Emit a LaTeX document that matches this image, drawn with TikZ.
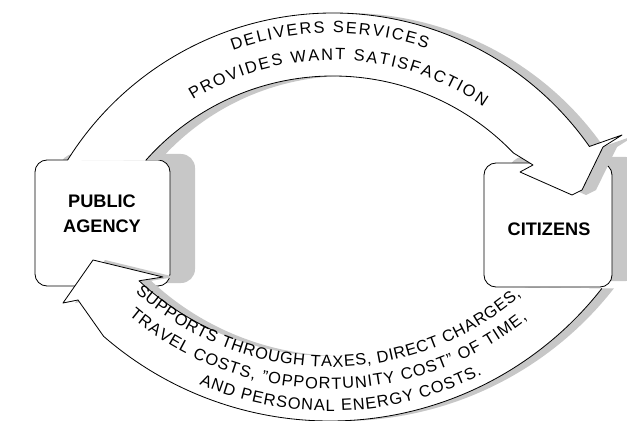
\documentclass[tikz,border=0pt]{standalone}
\usepackage{fontspec}
\setmainfont{Liberation Sans}
\usetikzlibrary{decorations.text}

\newcommand{\arcfont}{\fontsize{14}{14}\selectfont}

% upper ribbon: agency -> citizens
\newcommand{\servicepath}{([shift={(-148:313)}]ct) arc[start angle=-148, end angle=-35, radius=313]
  -- (622,135) -- (603,147) -- (582,190) -- (572,195) -- (520,172) -- (533,165)
  -- ([shift={(-43.8:250)}]ct) arc[start angle=-43.8, end angle=-138.5, radius=250]}
% lower ribbon: citizens -> agency
\newcommand{\supportpath}{(93,260) -- (63,303) -- (78,300)
  -- ([shift={(131:345)}]cb) arc[start angle=131, end angle=38, radius=345]
  -- ([shift={(49:280)}]cb) arc[start angle=49, end angle=133, radius=280] -- (163,277) -- cycle}

\begin{document}
\begin{tikzpicture}[%
x=0.3mm, y=-0.3mm,
ribbonface/.style={fill=white, draw=black, line width=0.7pt, line join=round},
ribbonshade/.style={fill=black!22},
boxface/.style={fill=white, draw=black, line width=0.7pt, rounded corners=3.6mm},
boxshade/.style={fill=black!22, rounded corners=4.2mm},
boxlabel/.style={font=\bfseries\fontsize{15.5}{21}\selectfont, align=center, inner sep=0pt},
fittext/.style={decorate, decoration={text along path, text align=fit to path, text={|\arcfont|#1}}}
]
\useasboundingbox (0,0) rectangle (627,421);
\clip (0,0) rectangle (627,421);

\coordinate (ct) at (333,326);
\coordinate (cb) at (330,76);

% public agency box, open at the top where the ribbon leaves it
\fill[boxshade] (60,154) rectangle (195,283);
\filldraw[boxface] (67.6,160) -- (35,160) -- (35,286) -- (170,286) -- (170,160) -- (145.7,160);
\node[boxlabel] (agency) at (102,214) {PUBLIC\\AGENCY};

% lower ribbon
\begin{scope}[transform canvas={xshift=3.6mm}]
\fill[ribbonshade] \supportpath;
\end{scope}
\fill[white] \supportpath;
\draw[ribbonface, fill=none] ([shift={(114:280)}]cb) arc[start angle=114, end angle=133, radius=280]
  -- (163,277) -- (93,260) -- (63,303) -- (78,300)
  -- ([shift={(131:345)}]cb) arc[start angle=131, end angle=38, radius=345];

% citizens box
\fill[boxshade] (509,157) rectangle (640,281);
\filldraw[boxface] (484,163) rectangle (612,287);
\node[boxlabel] (citizens) at (549,229) {CITIZENS};

% upper ribbon
\begin{scope}[transform canvas={xshift=4.2mm}]
\fill[ribbonshade] \servicepath -- cycle;
\end{scope}
\filldraw[ribbonface] \servicepath;

% lettering along the ribbons
\path[fittext={DELIVERS SERVICES}] ([shift={(-110:293)}]ct) arc[start angle=-110, end angle=-71.3, radius=293];
\path[fittext={PROVIDES WANT SATISFACTION}] ([shift={(-121.8:266)}]ct) arc[start angle=-121.8, end angle=-55.6, radius=266];
\path[fittext={SUPPORTS THROUGH TAXES, DIRECT CHARGES,}] ([shift={(132:291)}]cb) arc[start angle=132, end angle=49, radius=291];
\path[fittext={TRAVEL COSTS, "OPPORTUNITY COST" OF TIME,}] ([shift={(130:313)}]cb) arc[start angle=130, end angle=51, radius=313];
\path[fittext={AND PERSONAL ENERGY COSTS.}] ([shift={(113:335)}]cb) arc[start angle=113, end angle=63, radius=335];
\end{tikzpicture}
\end{document}
